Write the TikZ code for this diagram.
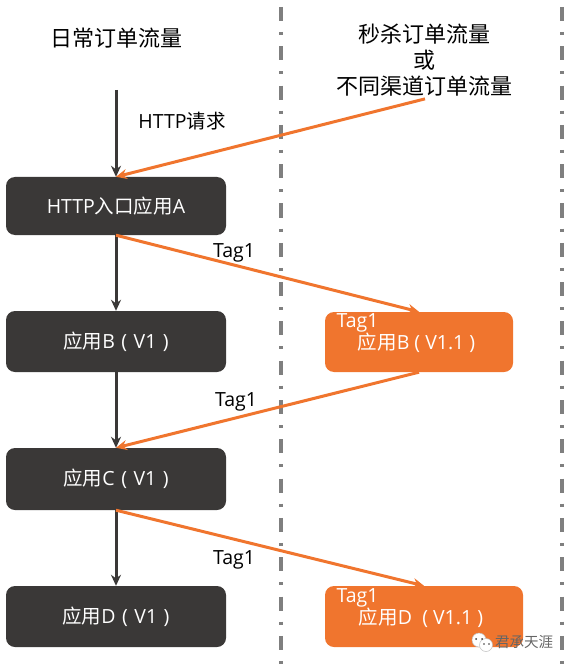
\documentclass[tikz,border=0pt]{standalone}
\usepackage{fontspec}
\usetikzlibrary{arrows.meta}
\setmainfont{Open Sans}
\newfontfamily\cjk{Noto Sans CJK SC}
\definecolor{appdark}{HTML}{3A3837}
\definecolor{apporange}{HTML}{F0752E}
\definecolor{lanegray}{HTML}{7F7F7F}
\newcommand{\appgap}{\hspace{6.5pt}}
\tikzset{
  appbox/.style={fill=appdark, rounded corners=9pt, text=white, inner sep=0pt},
  tagbox/.style={fill=apporange, rounded corners=9pt, inner sep=0pt},
  tagtext/.style={text=white, inner sep=0pt},
  title/.style={font=\fontsize{22}{26}\selectfont\cjk, align=center, inner sep=0pt},
  lane/.style={lanegray, line width=4pt, dash pattern=on 14pt off 11pt on 3pt off 11.3pt},
  main/.style={appdark, line width=3pt, ->},
  tagged/.style={apporange, line width=3pt, ->}
}
\begin{document}
\begin{tikzpicture}[x=1pt, y=-1pt, >={Stealth[length=11pt,width=10pt]}, font=\fontsize{19.5}{23}\selectfont]
        \useasboundingbox (0,0) rectangle (570,668);

        % Spuren
        \draw[lane] (281,7) -- (281,668);
        \draw[lane] (562,7) -- (562,668);

        % Titel
        \node[title] (daily) at (116,38) {日常订单流量};
        \node[title] (flash) at (424,60.5) {秒杀订单流量\\或\\不同渠道订单流量};
        \coordinate (start) at (116,90);

        % Anwendungen links
        \node[appbox, minimum width=220pt, minimum height=58pt] (appA) at (116,206) {HTTP{\cjk 入口应用}A};
        \node[appbox, minimum width=220pt, minimum height=61pt] (appB) at (116,341.5) {{\cjk 应用}B\appgap(\appgap V1\appgap)\hspace{8pt}};
        \node[appbox, minimum width=220pt, minimum height=62pt] (appC) at (116,479) {{\cjk 应用}C\appgap(\appgap V1\appgap)\hspace{8pt}};
        \node[appbox, minimum width=220pt, minimum height=61pt] (appD) at (116,616.5) {{\cjk 应用}D\appgap(\appgap V1\appgap)\hspace{8pt}};

        % Anwendungen rechts
        \node[tagbox, minimum width=188pt, minimum height=60pt] (appBnew) at (419,342) {};
        \node[tagbox, minimum width=198pt, minimum height=61pt] (appDnew) at (424,616.5) {};
        \node[tagtext] (tagB) at (357.5,323) {Tag1};
        \node[tagtext] (nameB) at (416.5,343) {{\cjk 应用}B ( V1.1 )};
        \node[tagtext] (tagD) at (357.5,598) {Tag1};
        \node[tagtext] (nameD) at (421,618) {{\cjk 应用}D \ ( V1.1 )};

        % Pfeile
        \draw[main] (start) -- (appA.north);
        \draw[main] (appA) -- (appB);
        \draw[main] (appB) -- (appC);
        \draw[main] (appC) -- (appD);
        \draw[tagged] (flash.south) ++(1,2) -- (appA.north);
        \draw[tagged] (appA.south) -- (appBnew.north);
        \draw[tagged] (appBnew.south) -- (appC.north);
        \draw[tagged] (appC.south) -- (appDnew.north);

        % Beschriftungen
        \node (request) at (182,121) {HTTP{\cjk 请求}};
        \node (tagAB) at (234,253) {Tag1};
        \node (tagBC) at (236,402) {Tag1};
        \node (tagCD) at (234,560) {Tag1};

        % Wasserzeichen
        \node[lanegray!80!black, inner sep=0pt] (mark) at (524,642.5) {\fontsize{14.5}{18}\selectfont\cjk 君承天涯};
        \fill[white, draw=lanegray!50, line width=0.5pt] (479,640) circle (7pt);
        \fill[white, draw=lanegray!50, line width=0.5pt] (486,645) circle (6.5pt);
        \fill[appdark] (476,639) circle (1pt) (482,639) circle (1pt) (484,644) circle (0.8pt) (489,644) circle (0.8pt);
    \end{tikzpicture}
\end{document}
